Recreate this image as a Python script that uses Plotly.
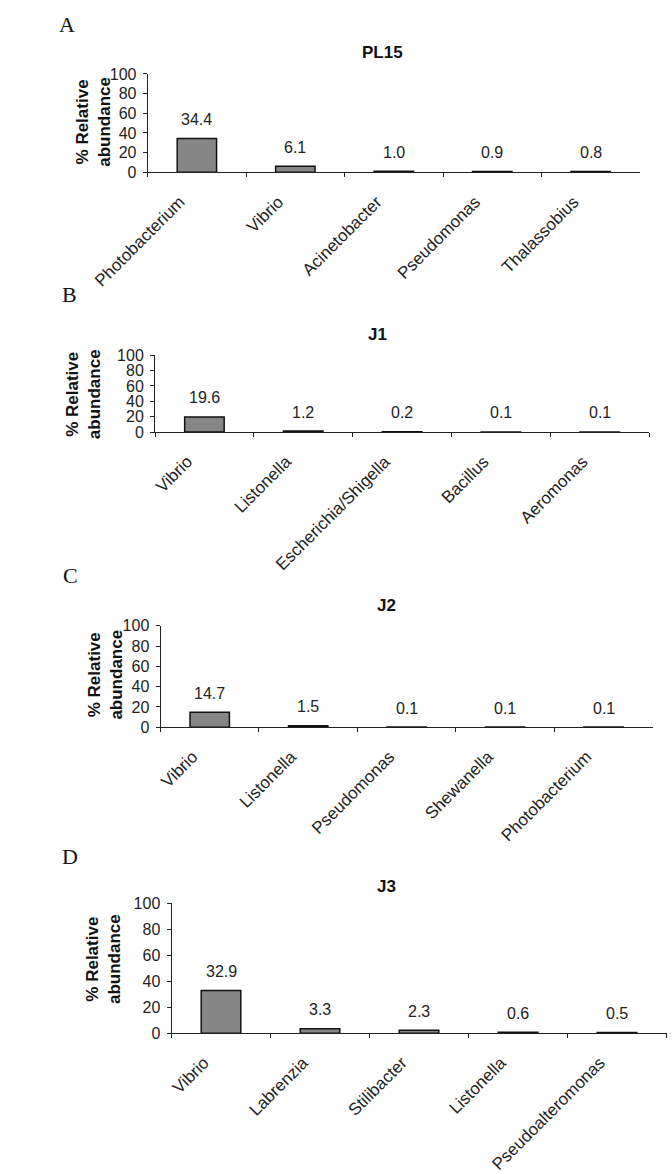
import plotly.graph_objects as go

W, H = 672, 1174

# ---- data ----
panel_letters = ["A", "B", "C", "D"]
panel_titles = ["PL15", "J1", "J2", "J3"]
cats_A = ["Photobacterium", "Vibrio", "Acinetobacter", "Pseudomonas", "Thalassobius"]
vals_A = [34.4, 6.1, 1.0, 0.9, 0.8]
cats_B = ["Vibrio", "Listonella", "Escherichia/Shigella", "Bacillus", "Aeromonas"]
vals_B = [19.6, 1.2, 0.2, 0.1, 0.1]
cats_C = ["Vibrio", "Listonella", "Pseudomonas", "Shewanella", "Photobacterium"]
vals_C = [14.7, 1.5, 0.1, 0.1, 0.1]
cats_D = ["Vibrio", "Labrenzia", "Stilibacter", "Listonella", "Pseudoalteromonas"]
vals_D = [32.9, 3.3, 2.3, 0.6, 0.5]
y_ticks = [0, 20, 40, 60, 80, 100]
y_title = "% Relative<br>abundance"

cats_all = [cats_A, cats_B, cats_C, cats_D]
vals_all = [vals_A, vals_B, vals_C, vals_D]

# ---- layout geometry (pixels) ----
plot_boxes = [  # x0, x1, ytop, ybottom
    (100, 637, 67, 167),
    (108, 647, 353, 431),
    (114, 651, 628, 731),
    (126, 666, 910, 1042),
]
title_pos = [(356, 45), (351, 332), (361, 607), (360, 893)]
letter_pos = [(12, 17), (15, 291), (16, 577), (15, 862)]
ytitle_pos = [(40, 116), (30, 393), (53, 678), (52, 967)]

SANS = "Liberation Sans, Arial, sans-serif"
SERIF = "Liberation Serif, Times New Roman, serif"

def px_x(x):
    return x / W

def px_y(y):
    return 1 - y / H

fig = go.Figure()
annotations = []
for i in range(4):
    x0, x1, yt, yb = plot_boxes[i]
    n = "" if i == 0 else str(i + 1)
    xa, ya = "x" + n, "y" + n
    fig.add_trace(go.Bar(
        x=cats_all[i], y=vals_all[i], xaxis=xa, yaxis=ya,
        width=0.4,
        marker=dict(color="#868686", line=dict(color="#111111", width=1.5)),
        showlegend=False, hoverinfo="x+y",
    ))
    fig.layout["xaxis" + n] = dict(
        domain=[px_x(x0), px_x(x1)], anchor=ya,
        type="category", range=[-0.5, 4.5],
        showline=True, linecolor="#222", linewidth=1,
        ticks="outside", ticklen=4, tickcolor="#222", tickson="boundaries",
        tickangle=-45, tickfont=dict(family=SANS, size=17, color="#222"),
        ticklabelshift=-17, ticklabelstandoff=12,
        showgrid=False, zeroline=False, fixedrange=True,
    )
    fig.layout["yaxis" + n] = dict(
        domain=[px_y(yb), px_y(yt)], anchor=xa,
        range=[0, 100], tickvals=y_ticks,
        showline=True, linecolor="#222", linewidth=1,
        ticks="outside", ticklen=4, tickcolor="#222",
        tickfont=dict(family=SANS, size=16, color="#222"),
        ticklabelstandoff=3,
        showgrid=False, zeroline=False, fixedrange=True,
    )
    for c, v in zip(cats_all[i], vals_all[i]):
        annotations.append(dict(
            x=c, y=v, xref=xa, yref=ya, text=f"{v:.1f}", showarrow=False,
            yshift=19, xanchor="center", yanchor="middle",
            font=dict(family=SANS, size=16, color="#222"),
        ))
    tx, ty = title_pos[i]
    annotations.append(dict(
        x=px_x(tx), y=px_y(ty), xref="paper", yref="paper",
        text=f"<b>{panel_titles[i]}</b>", showarrow=False,
        xanchor="center", yanchor="middle",
        font=dict(family=SANS, size=17, color="#111"),
    ))
    lx, ly = letter_pos[i]
    annotations.append(dict(
        x=px_x(lx), y=px_y(ly), xref="paper", yref="paper",
        text=panel_letters[i], showarrow=False,
        xanchor="center", yanchor="middle",
        font=dict(family=SERIF, size=22, color="#111"),
    ))
    ax_, ay_ = ytitle_pos[i]
    annotations.append(dict(
        x=px_x(ax_), y=px_y(ay_), xref="paper", yref="paper",
        text=f"<b>{y_title}</b>", showarrow=False, textangle=-90,
        xanchor="center", yanchor="middle",
        font=dict(family=SANS, size=17, color="#111"),
    ))

fig.update_layout(
    width=W, height=H,
    margin=dict(l=0, r=0, t=0, b=0),
    paper_bgcolor="white", plot_bgcolor="white",
    annotations=annotations,
    bargap=0.6,
)

fig.write_html(
    "out.html",
    config={"displayModeBar": False},
    post_script="document.body.style.margin='0';document.body.style.padding='0';",
)
